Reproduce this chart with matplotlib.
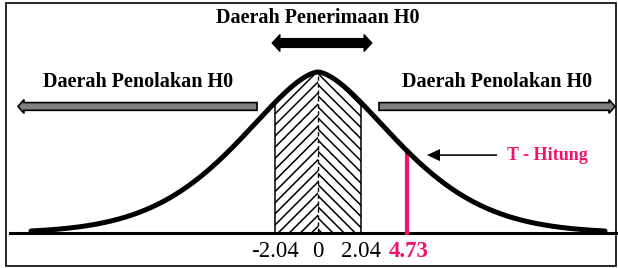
import numpy as np
import matplotlib.pyplot as plt
import matplotlib.patches as mpatches

# values shown on the sketch
t_labels = ["-2.04", "0", "2.04"]
t_pos = [-0.43, 0.0, 0.43]          # schematic positions on the drawing axis
t_crit = 2.04
t_hitung = 4.73
t_hitung_pos = 0.89

pink = "#F0136B"
plt.rcParams['font.family'] = ['Liberation Serif', 'DejaVu Serif']
plt.rcParams['hatch.linewidth'] = 1.1


def bell(x):
    # schematic bell curve, peak = 1
    return np.exp(-(np.abs(x) / 1.14) ** 1.6)


fig = plt.figure(figsize=(6.18, 2.68), dpi=100)
ax = fig.add_axes([0, 0, 1, 1])
ax.set_xlim(-3.18, 3.00)
ax.set_ylim(-0.2174, 1.4472)
ax.axis('off')

# frame
fig.patches.append(mpatches.Rectangle((6 / 618, 2 / 268), 610 / 618, 263 / 268,
                                      transform=fig.transFigure, fill=False,
                                      edgecolor='black', lw=1.2))

# acceptance region with chevron hatch
edge = t_pos[2]
xl = np.linspace(-edge, 0, 100)
xr = np.linspace(0, edge, 100)
ax.fill_between(xl, 0, bell(xl), facecolor='white', edgecolor='black', hatch='///', lw=0, zorder=2)
ax.fill_between(xr, 0, bell(xr), facecolor='white', edgecolor='black', hatch='\\\\\\', lw=0, zorder=2)
ax.vlines([-edge, edge], 0, bell(edge), color='black', lw=1.1, zorder=3)
ax.plot([0, 0], [0, 1], color='black', lw=1.0, ls=(0, (3, 2)), zorder=3)

# curve and baseline
xs = np.linspace(-2.87, 2.87, 800)
ax.plot([-3.08, 2.99], [0, 0], color='black', lw=2.2, zorder=3)
ax.plot(xs, bell(xs), color='black', lw=3.6, solid_capstyle='round', zorder=4)

# t hitung line
ax.plot([t_hitung_pos, t_hitung_pos], [0, bell(t_hitung_pos)], color=pink, lw=3, zorder=3)

# arrows
ax.arrow(0.04, 1.18, -0.50, 0, width=0.056, head_width=0.106, head_length=0.08,
         length_includes_head=True, fc='black', ec='black', lw=0.8)
ax.arrow(0.04, 1.18, 0.50, 0, width=0.056, head_width=0.106, head_length=0.08,
         length_includes_head=True, fc='black', ec='black', lw=0.8)
ax.arrow(-0.61, 0.786, -2.39, 0, width=0.048, head_width=0.085, head_length=0.06,
         length_includes_head=True, fc='#808080', ec='black', lw=1.2)
ax.arrow(0.61, 0.786, 2.36, 0, width=0.048, head_width=0.085, head_length=0.06,
         length_includes_head=True, fc='#808080', ec='black', lw=1.2)
ax.arrow(1.79, 0.484, -0.70, 0, width=0.010, head_width=0.075, head_length=0.13,
         length_includes_head=True, fc='black', ec='none', lw=0)

# texts
ax.text(0.0, 1.335, "Daerah Penerimaan H0", ha='center', va='center', fontsize=14.5, weight='bold')
ax.text(-1.80, 0.938, "Daerah Penolakan H0", ha='center', va='center', fontsize=14.5, weight='bold')
ax.text(1.79, 0.938, "Daerah Penolakan H0", ha='center', va='center', fontsize=14.5, weight='bold')
ax.text(2.29, 0.484, "T - Hitung", ha='center', va='center', fontsize=13, weight='bold', color=pink)

for p, lab in zip(t_pos, t_labels):
    ax.text(p, -0.118, lab, ha='center', va='center', fontsize=16.5)
ax.text(t_hitung_pos + 0.02, -0.118, f"{t_hitung:.2f}", ha='center', va='center',
        fontsize=16.5, weight='bold', color=pink)

fig.savefig("out.png", dpi=100)
